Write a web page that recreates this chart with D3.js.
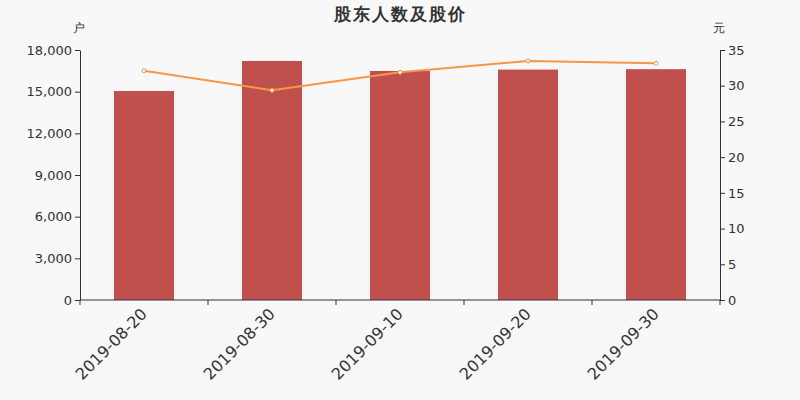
<!doctype html>
<html>
<head>
<meta charset="utf-8">
<script src="https://cdn.jsdelivr.net/npm/d3@7"></script>
<style>
  body { margin: 0; background: #f8f8f8; }
  svg { font-family: "DejaVu Sans", sans-serif; }
</style>
</head>
<body>
<script>
var dates = ["2019-08-20", "2019-08-30", "2019-09-10", "2019-09-20", "2019-09-30"];
var holders = [15050, 17210, 16490, 16590, 16620];
var prices = [32.1, 29.36, 31.88, 33.46, 33.13];
var leftTicks = [0, 3000, 6000, 9000, 12000, 15000, 18000];
var rightTicks = [0, 5, 10, 15, 20, 25, 30, 35];

var width = 800, height = 400;
var plotLeft = 80, plotRight = 720, plotTop = 50, plotBottom = 300;

var svg = d3.select("body").append("svg")
    .attr("width", width)
    .attr("height", height)
    .style("background", "#f8f8f8");

svg.append("text")
    .attr("x", 400).attr("y", 20)
    .attr("text-anchor", "middle")
    .attr("fill", "#333")
    .style("font-size", "17px")
    .style("font-weight", "bold")
    .style("letter-spacing", "2px")
    .text("股东人数及股价");

var x = d3.scaleBand().domain(dates).range([plotLeft, plotRight]);
var yL = d3.scaleLinear().domain([0, 18000]).range([plotBottom, plotTop]);
var yR = d3.scaleLinear().domain([0, 35]).range([plotBottom, plotTop]);

// bars
svg.selectAll("rect.bar")
    .data(dates)
    .enter().append("rect")
    .attr("class", "bar")
    .attr("x", function(d) { return x(d) + x.bandwidth() / 2 - 30; })
    .attr("width", 60)
    .attr("y", function(d, i) { return yL(holders[i]); })
    .attr("height", function(d, i) { return plotBottom - yL(holders[i]); })
    .attr("fill", "#c0504d");

// left axis
var axL = svg.append("g")
    .attr("transform", "translate(" + plotLeft + ",0)")
    .call(d3.axisLeft(yL).tickValues(leftTicks).tickSize(5).tickSizeOuter(0)
        .tickFormat(d3.format(",")));

// right axis
var axR = svg.append("g")
    .attr("transform", "translate(" + plotRight + ",0)")
    .call(d3.axisRight(yR).tickValues(rightTicks).tickSize(5).tickSizeOuter(0));

// x axis
var xTicks = dates.map(function(d) { return x(d); });
var axX = svg.append("g")
    .attr("transform", "translate(0," + plotBottom + ")");
axX.append("line")
    .attr("x1", plotLeft).attr("x2", plotRight)
    .attr("stroke", "#333");
axX.selectAll("line.tick")
    .data(xTicks.concat([plotRight]))
    .enter().append("line")
    .attr("x1", function(d) { return d; })
    .attr("x2", function(d) { return d; })
    .attr("y1", 0).attr("y2", 5)
    .attr("stroke", "#333");
axX.selectAll("text")
    .data(dates)
    .enter().append("text")
    .attr("transform", function(d) {
        return "translate(" + (x(d) + x.bandwidth() / 2 - 4) + ",7) rotate(-45)";
    })
    .attr("text-anchor", "end")
    .attr("dy", "0.71em")
    .attr("fill", "#333")
    .style("font-size", "16px")
    .text(function(d) { return d; });

[axL, axR].forEach(function(g) {
    g.attr("font-family", null);
    g.select(".domain").attr("stroke", "#333");
    g.selectAll(".tick line").attr("stroke", "#333");
    g.selectAll(".tick text").attr("fill", "#333").style("font-size", "13px");
});

// unit labels
svg.append("text").attr("x", 79).attr("y", 32)
    .attr("text-anchor", "middle").attr("fill", "#333")
    .style("font-size", "12px").text("户");
svg.append("text").attr("x", 719).attr("y", 32)
    .attr("text-anchor", "middle").attr("fill", "#333")
    .style("font-size", "12px").text("元");

// price line
var line = d3.line()
    .x(function(d, i) { return x(dates[i]) + x.bandwidth() / 2; })
    .y(function(d) { return yR(d); });

svg.append("path")
    .datum(prices)
    .attr("d", line)
    .attr("fill", "none")
    .attr("stroke", "#f79646")
    .attr("stroke-width", 2);

svg.selectAll("circle.pt")
    .data(prices)
    .enter().append("circle")
    .attr("class", "pt")
    .attr("cx", function(d, i) { return x(dates[i]) + x.bandwidth() / 2; })
    .attr("cy", function(d) { return yR(d); })
    .attr("r", 2)
    .attr("fill", "#fff")
    .attr("stroke", "#f79646")
    .attr("stroke-width", 1);
</script>
</body>
</html>
